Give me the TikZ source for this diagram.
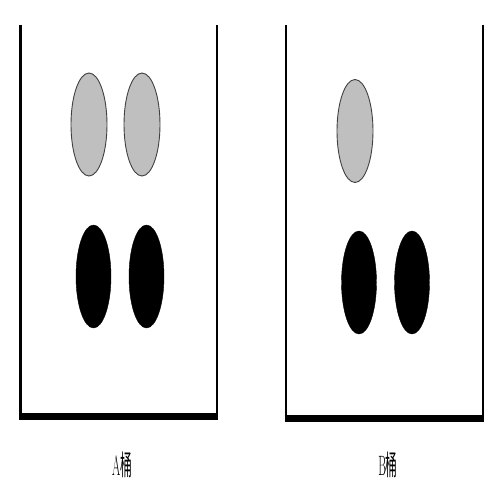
\documentclass[tikz,border=0pt]{standalone}
\usepackage{fontspec}
\usetikzlibrary{shapes.geometric}
\newfontfamily\cjk{Noto Sans CJK SC}
\begin{document}
\begin{tikzpicture}[x=1pt,y=-1pt,
  wall/.style={line width=2.6pt, black},
  floor/.style={line width=7pt, black},
  grayball/.style={ellipse, draw=black!75, line width=0.9pt, fill=black!25, minimum width=36pt, minimum height=103pt, inner sep=0pt},
  blackball/.style={ellipse, draw=black, fill=black, minimum width=35pt, minimum height=103pt, inner sep=0pt},
  lbl/.style={inner sep=0pt, font=\fontsize{28}{30}\selectfont, xscale=0.42}]
\useasboundingbox (0,0) rectangle (500,500);
% Bucket A
\coordinate (atl) at (20.5,25);
\coordinate (abl) at (20.5,416);
\coordinate (atr) at (217,25);
\coordinate (abr) at (217,416);
\draw[wall] (atl) -- (abl);
\draw[wall] (atr) -- (abr);
\draw[floor] ([xshift=-1.3pt]abl) -- ([xshift=1.3pt]abr);
\node[grayball] (ag1) at (89,124.5) {};
\node[grayball] (ag2) at (142,124.5) {};
\node[blackball] (ab1) at (93.5,276.5) {};
\node[blackball] (ab2) at (146.5,276.5) {};
\node[lbl] (la) at (122,465) {A{\cjk 桶}};
% Bucket B
\coordinate (btl) at (286,25);
\coordinate (bbl) at (286,418);
\coordinate (btr) at (483,25);
\coordinate (bbr) at (483,418);
\draw[wall] (btl) -- (bbl);
\draw[wall] (btr) -- (bbr);
\draw[floor] ([xshift=-1.3pt]bbl) -- ([xshift=1.3pt]bbr);
\node[grayball] (bg1) at (355,131) {};
\node[blackball] (bb1) at (359,282.5) {};
\node[blackball] (bb2) at (412,282.5) {};
\node[lbl] (lb) at (388,465) {B{\cjk 桶}};
\end{tikzpicture}
\end{document}
